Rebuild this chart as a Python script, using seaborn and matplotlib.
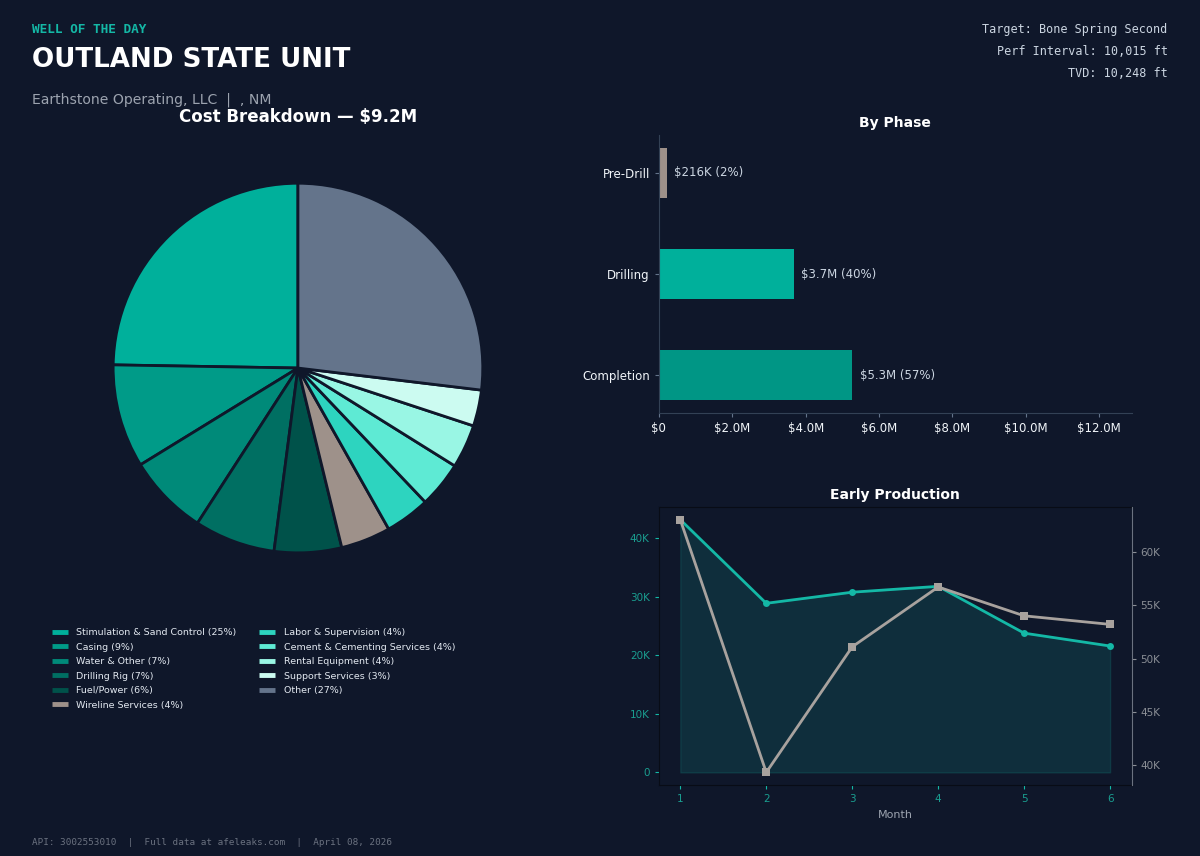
import matplotlib
matplotlib.use('Agg')
import matplotlib.pyplot as plt
from matplotlib.lines import Line2D
from matplotlib.ticker import FuncFormatter
import seaborn as sns
import pandas as pd

# Cost categories (USD)
categories = ['Stimulation & Sand Control', 'Casing', 'Water & Other', 'Drilling Rig',
              'Fuel/Power', 'Wireline Services', 'Labor & Supervision',
              'Cement & Cementing Services', 'Rental Equipment', 'Support Services', 'Other']
costs = [2.27e6, 0.83e6, 0.65e6, 0.65e6, 0.54e6, 0.40e6, 0.36e6, 0.37e6, 0.35e6, 0.29e6, 2.47e6]
cat_colors = ['#00b09b', '#009b88', '#008a79', '#006f62', '#00524a', '#9e918a',
              '#2dd4bf', '#5eead4', '#99f6e4', '#ccfbf1', '#64748b']

# Cost by phase
phases = ['Pre-Drill', 'Drilling', 'Completion']
phase_costs = [0.216e6, 3.68e6, 5.27e6]
phase_colors = ['#9e918a', '#00b09b', '#009685']

# Early production
months = [1, 2, 3, 4, 5, 6]
oil = [43200, 28900, 30800, 31800, 23800, 21600]
gas = [63000, 39350, 51100, 56700, 54000, 53200]

BG = '#0f172a'
TEAL = '#14b8a6'
GRAY = '#a8a29e'
MUTED = '#9ca3af'
TEXT = '#e2e8f0'

sns.set_style('dark')
plt.rcParams['font.family'] = ['DejaVu Sans']

fig = plt.figure(figsize=(12, 8.56), dpi=100, facecolor=BG)

# header
fig.text(0.027, 0.966, 'WELL OF THE DAY', family='DejaVu Sans Mono', fontweight='bold',
         fontsize=9.2, color=TEAL, va='center')
fig.text(0.027, 0.930, 'OUTLAND STATE UNIT', fontweight='bold', fontsize=18.8, color='white', va='center')
fig.text(0.027, 0.883, 'Earthstone Operating, LLC  |  , NM', fontsize=10.1, color=MUTED, va='center')
for i, line in enumerate(['Target: Bone Spring Second', 'Perf Interval: 10,015 ft', 'TVD: 10,248 ft']):
    fig.text(0.973, 0.965 - i * 0.0257, line, family='DejaVu Sans Mono', fontsize=8.5,
             color='#cbd5e1', ha='right', va='center')
fig.text(0.027, 0.016, 'API: 3002553010  |  Full data at afeleaks.com  |  April 08, 2026',
         family='DejaVu Sans Mono', fontsize=6.7, color='#6b7280', va='center')

# pie
ax_pie = fig.add_axes([0.0558, 0.3002, 0.385, 0.5397])
ax_pie.set_facecolor(BG)
ax_pie.pie(costs, colors=cat_colors, startangle=90, counterclock=True,
           wedgeprops=dict(edgecolor=BG, linewidth=2))
ax_pie.set_xlim(-1.25, 1.25)
ax_pie.set_ylim(-1.25, 1.25)
ax_pie.set_aspect('equal')
total = sum(costs)
ax_pie.set_title(f'Cost Breakdown — ${total / 1e6:.1f}M', color='white', fontsize=12,
                 fontweight='bold', pad=11)

handles = [Line2D([0], [0], color=c, lw=3.5, solid_capstyle='butt') for c in cat_colors]
labels = [f'{n} ({v / total * 100:.0f}%)' for n, v in zip(categories, costs)]
leg = fig.legend(handles, labels, loc='upper left', bbox_to_anchor=(0.036, 0.276), ncol=2,
                 frameon=False, fontsize=6.8, labelcolor=TEXT, handlelength=1.7,
                 handletextpad=0.9, columnspacing=2.4, labelspacing=0.58)

# by phase bars
ax_bar = fig.add_axes([0.549, 0.5175, 0.394, 0.3248])
ax_bar.set_facecolor(BG)
df_phase = pd.DataFrame({'phase': phases, 'cost': phase_costs})
sns.barplot(data=df_phase, x='cost', y='phase', hue='phase', palette=phase_colors,
            orient='h', width=0.5, legend=False, ax=ax_bar, saturation=1, linewidth=0)
ax_bar.set_ylim(2.375, -0.375)
ax_bar.set_xlim(0, 12.88e6)
phase_total = sum(phase_costs)
for i, v in enumerate(phase_costs):
    txt = f'${v / 1e3:.0f}K' if v < 1e6 else f'${v / 1e6:.1f}M'
    ax_bar.text(v + 0.2e6, i, f'{txt} ({v / phase_total * 100:.0f}%)', color='#cbd5e1',
                fontsize=8.5, va='center')
ax_bar.xaxis.set_major_formatter(FuncFormatter(lambda x, p: '$0' if x == 0 else f'${x / 1e6:.1f}M'))
ax_bar.set_xticks([0, 2e6, 4e6, 6e6, 8e6, 10e6, 12e6])
ax_bar.set_xlabel('')
ax_bar.set_ylabel('')
ax_bar.set_title('By Phase', color='white', fontsize=10, fontweight='bold')
ax_bar.tick_params(colors='#f1f5f9', labelsize=8.5, length=3, left=True, bottom=True)
ax_bar.tick_params(axis='both', color='#64748b')
for s in ['top', 'right']:
    ax_bar.spines[s].set_visible(False)
for s in ['left', 'bottom']:
    ax_bar.spines[s].set_visible(True)
    ax_bar.spines[s].set_color('#334155')
ax_bar.grid(False)

# early production
ax_p = fig.add_axes([0.549, 0.0829, 0.394, 0.3248])
ax_p.set_facecolor(BG)
ax_p.fill_between(months, oil, color=TEAL, alpha=0.15)
sns.lineplot(x=months, y=oil, ax=ax_p, color=TEAL, marker='o', linewidth=2,
             markersize=5, markeredgewidth=0)
ax_p.set_title('Early Production', color='white', fontsize=10, fontweight='bold')
ax_p.set_xlabel('Month', color=MUTED, fontsize=8)
ax_p.set_ylabel('')
ax_p.set_xticks(months)
ax_p.yaxis.set_major_formatter(FuncFormatter(lambda x, p: '0' if x == 0 else f'{x / 1e3:.0f}K'))
ax_p.tick_params(colors=TEAL, labelsize=7.5, length=3, left=True, bottom=True)
ax_p.tick_params(axis='both', labelcolor='#1a9e90')
for s in ax_p.spines.values():
    s.set_visible(True)
    s.set_color('#080c16')
ax_p.grid(False)

ax_g = ax_p.twinx()
sns.lineplot(x=months, y=gas, ax=ax_g, color=GRAY, marker='s', linewidth=2,
             markersize=5.5, markeredgewidth=0)
ax_g.set_ylabel('')
ax_g.yaxis.set_major_formatter(FuncFormatter(lambda x, p: f'{x / 1e3:.0f}K'))
ax_g.tick_params(axis='y', colors='#8b8f96', labelsize=7.5, length=3, right=True)
for s in ['left', 'top', 'bottom']:
    ax_g.spines[s].set_visible(False)
ax_g.spines['right'].set_visible(True)
ax_g.spines['right'].set_color('#6b7280')
ax_g.grid(False)

fig.savefig('out.png', dpi=100, facecolor=BG)
